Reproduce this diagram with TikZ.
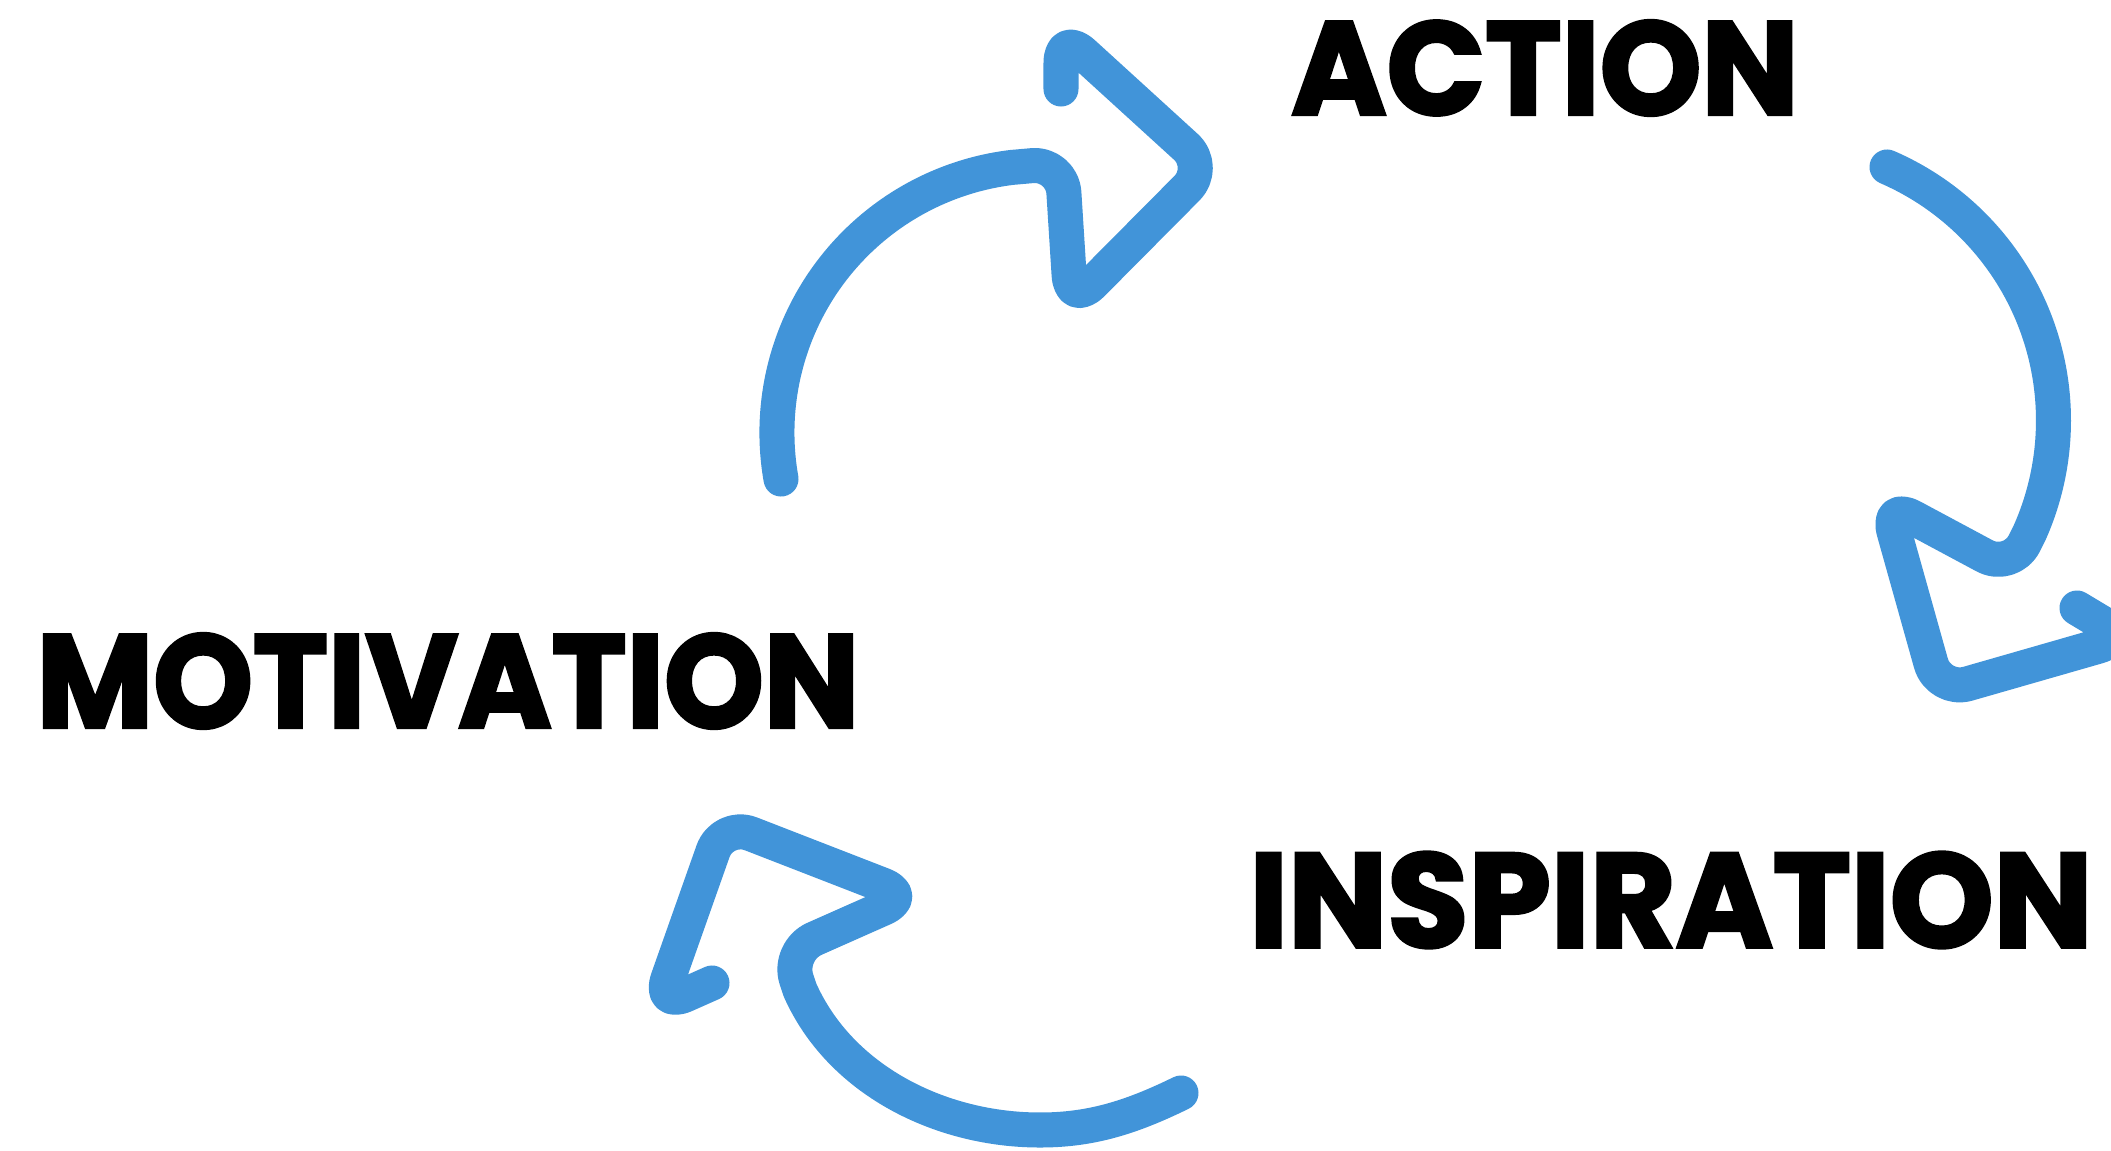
\documentclass[tikz,border=0pt]{standalone}
\usepackage{fontspec}
\newfontfamily\heavy{Poppins}[BoldFeatures={FakeBold=2.5}]
\definecolor{cyc}{RGB}{65,148,217}
\begin{document}
\begin{tikzpicture}[x=0.01cm,y=-0.01cm,
  cyclearrow/.style={draw=cyc, line width=0.35cm, line cap=round, line join=round},
  headround/.style={rounded corners=0.3cm},
  word/.style={inner sep=0pt, outer sep=0pt, anchor=center}]
\useasboundingbox (0,0) rectangle (2111,1151);
\fill[white] (0,0) rectangle (2111,1151);

% labels
\node[word] (motivation) at (448,681) {\resizebox{8.22cm}{0.94cm}{\heavy\bfseries MOTIVATION}};
\node[word] (action) at (1545,68) {\resizebox{5.07cm}{0.94cm}{\heavy\bfseries ACTION}};
\node[word] (inspiration) at (1671,900) {\resizebox{8.43cm}{0.95cm}{\heavy\bfseries INSPIRATION}};

% arrow 1 (motivation -> action)
\coordinate (a1S) at (781,479);
\coordinate (a1A) at (1062,163);
\coordinate (a1B) at (1071,305);
\coordinate (a1T) at (1208,167);
\coordinate (a1D) at (1061,33);
\coordinate (a1E) at (1061,89);
\draw[cyclearrow] (a1S) arc[start angle=190, end angle=97, radius=2.67cm]
  [headround] -- (a1A) -- (a1B) -- (a1T) -- (a1D) -- (a1E);

% arrow 2 (action -> inspiration)
\coordinate (a2S) at (1887,167);
\coordinate (a2P) at (2011,570);
\coordinate (a2Q) at (1886,503);
\coordinate (a2R) at (1939,692);
\coordinate (a2T) at (2127,638);
\coordinate (a2E) at (2077,608);
\draw[cyclearrow] (a2S) arc[start angle=66.6, end angle=-24, radius=2.76cm]
  [headround] -- (a2P) -- (a2Q) -- (a2R) -- (a2T) -- (a2E);

% arrow 3 (inspiration -> motivation)
\coordinate (a3S) at (1181,1093);
\coordinate (a3M) at (1040,1130);
\coordinate (a3C) at (800,990);
\coordinate (a3N) at (787,951);
\coordinate (a3T) at (911,896);
\coordinate (a3D) at (723,823);
\coordinate (a3R) at (658,1007);
\coordinate (a3E) at (712,983);
\draw[cyclearrow] (a3S) .. controls (1130,1118) and (1090,1130) .. (a3M)
  .. controls (940,1130) and (840,1080) .. (a3C)
  [headround] -- (a3N) -- (a3T) -- (a3D) -- (a3R) -- (a3E);
\end{tikzpicture}
\end{document}
